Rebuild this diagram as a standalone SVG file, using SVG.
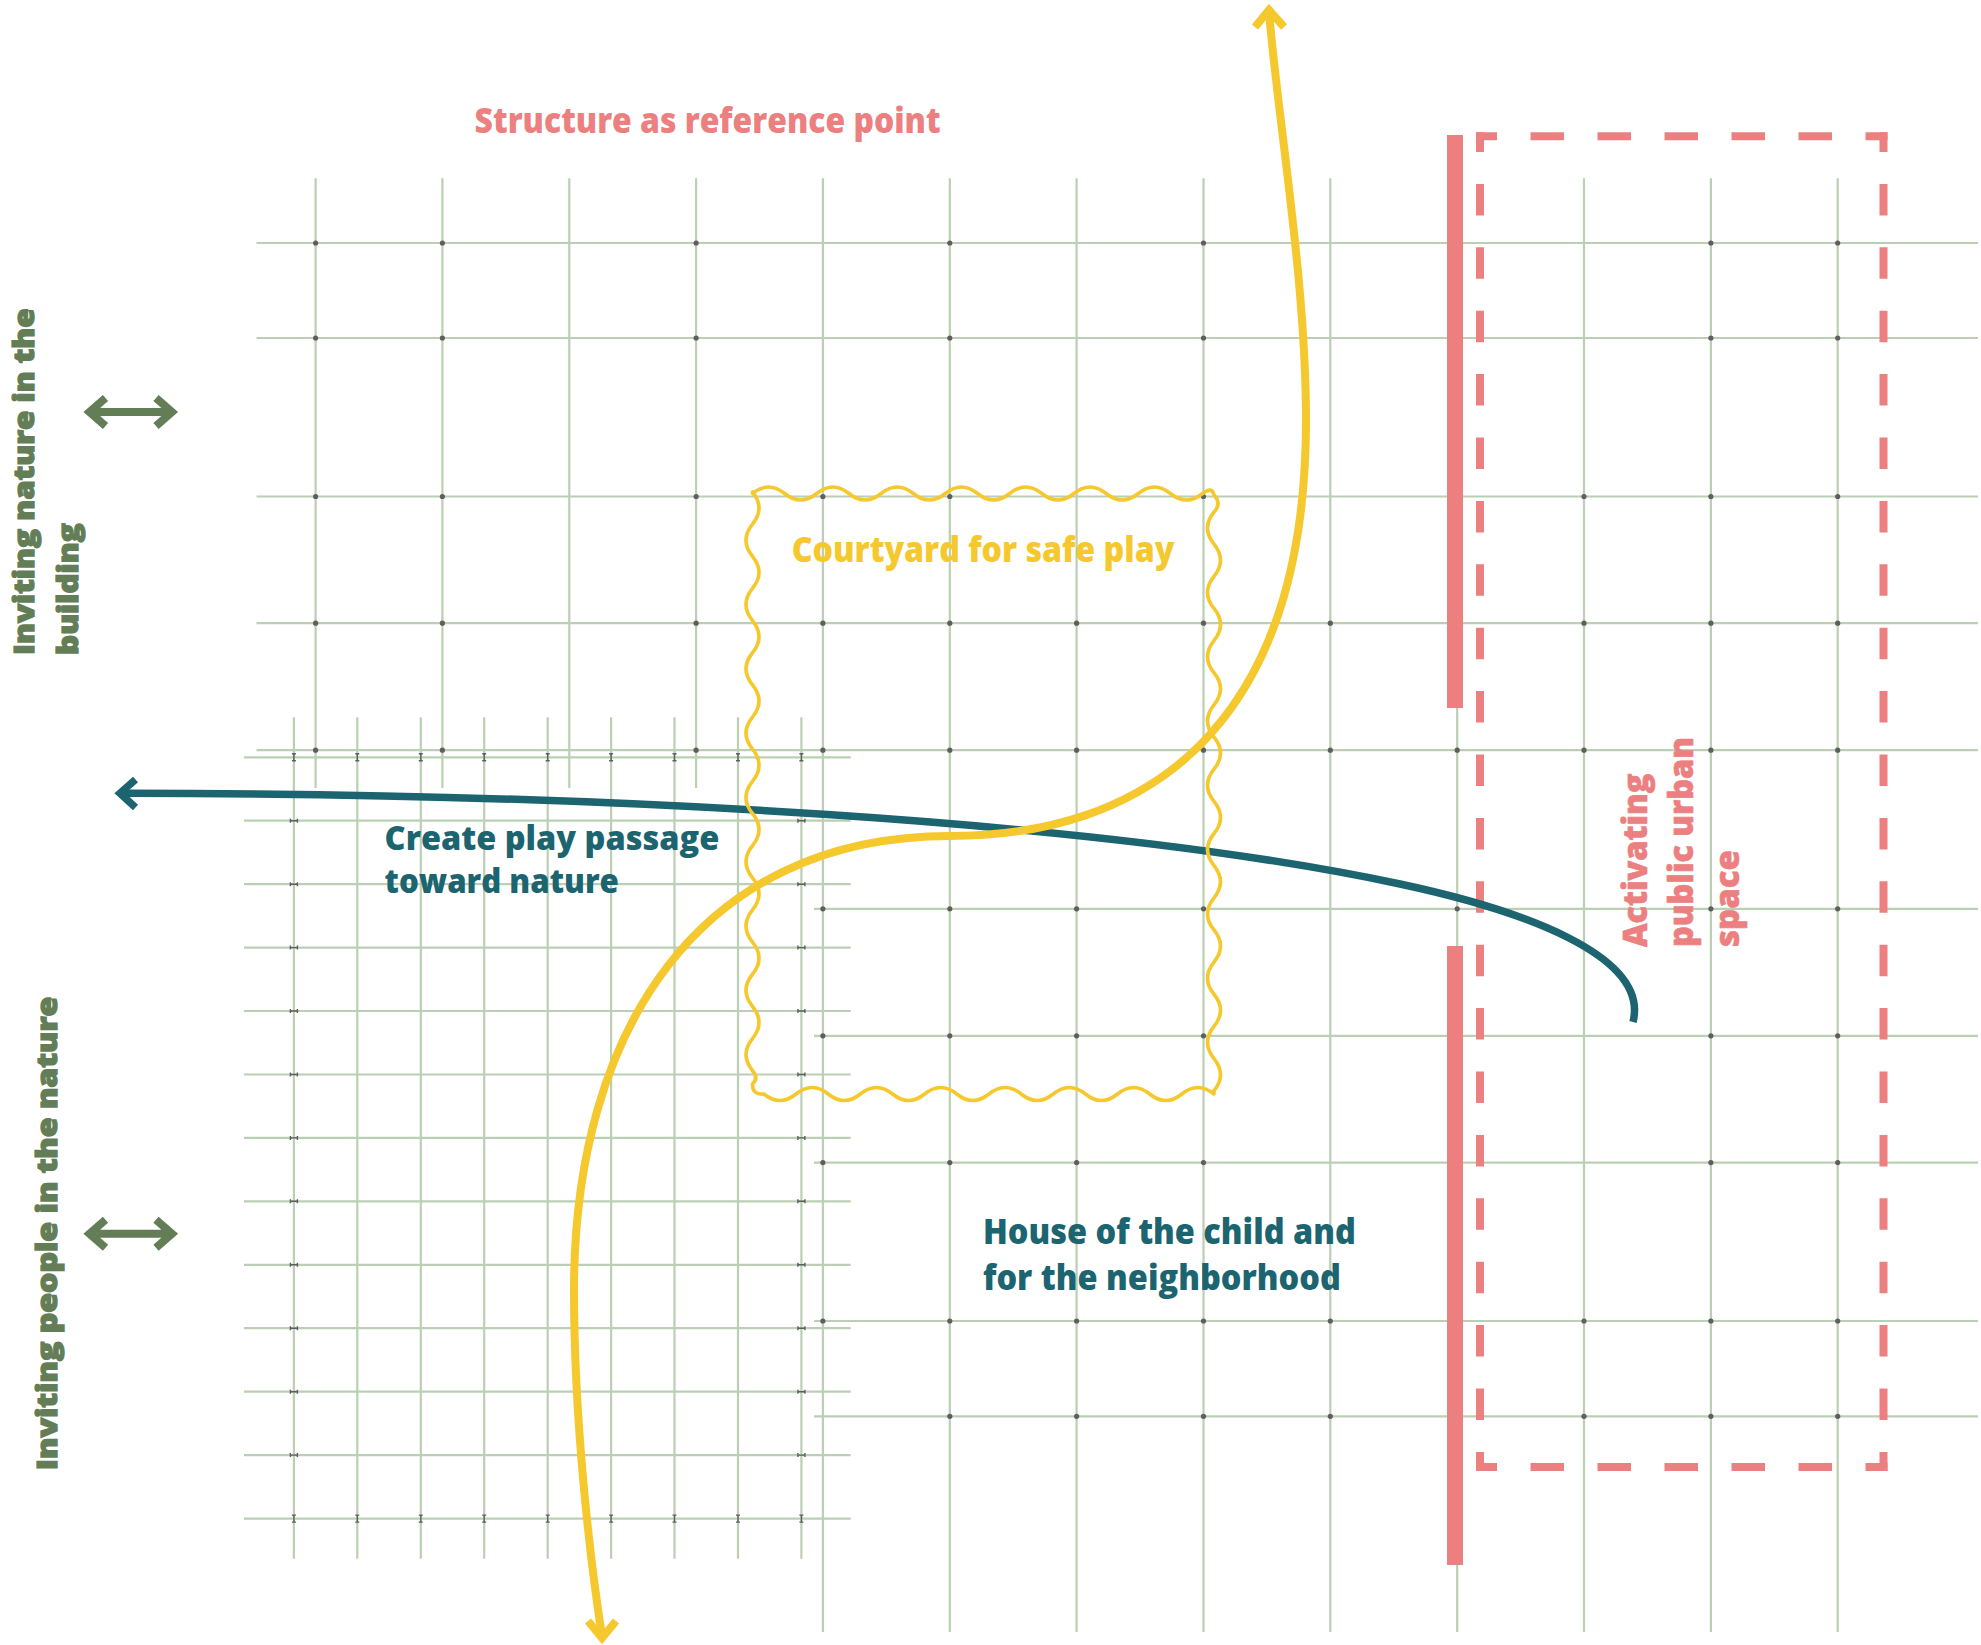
<svg xmlns="http://www.w3.org/2000/svg" xmlns:xlink="http://www.w3.org/1999/xlink" width="1981" height="1645" viewBox="0 0 1981 1645">
<style>
.g{stroke:#BACFB3;stroke-width:2.2;fill:none}
.dot{fill:#5E5E5E}
.mk{stroke:#5E5E5E;stroke-width:1.4;fill:none}
.pk{fill:#EC8080}
.dash{stroke:#EC8080;stroke-width:8;fill:none}
.teal{stroke:#1B6470;stroke-width:7.5;fill:none}
.yel{stroke:#F5C82D;stroke-width:8;fill:none}
.wav{stroke:#F5C82D;stroke-width:3.6;fill:none;stroke-linejoin:round}
.grn{stroke:#637E57;stroke-width:8;fill:none}
.t{font-family:'Open Sans',Lato,'Liberation Sans',sans-serif;font-weight:800}
.tb{font-family:'Open Sans',Lato,'Liberation Sans',sans-serif;font-weight:800}
.gt{fill:#637E57;stroke:#637E57;stroke-width:1.3}
.pt{fill:#EC8080;stroke:#EC8080;stroke-width:0.6}
</style>
<defs>
<g id="mi"><path class="mk" d="M-2,-3.5h4M-2,3.5h4M0,-3.5v7"/></g>
<g id="mh"><path class="mk" d="M-3.5,-2v4M3.5,-2v4M-3.5,0h7"/></g>
</defs>
<rect width="1981" height="1645" fill="#fff"/>
<g id="grid">
<path class="g" d="M315.6,178.3V788M442.4,178.3V788M569.3,178.3V788M696.1,178.3V788M822.9,178.3V1632M949.8,178.3V1632M1076.6,178.3V1632M1203.5,178.3V1632M1330.3,178.3V1632M1457.2,178.3V1632M1584,178.3V1632M1710.9,178.3V1632M1837.7,178.3V1632"/>
<path class="g" d="M256.5,243H1978M256.5,338H1978M256.5,496.5H1978M256.5,623.2H1978M256.5,750.2H1978M814,908.8H1978M814,1035.8H1978M814,1162.6H1978M814,1321H1978M814,1416.3H1978"/>
<path class="g" d="M293.9,717.3V1558.8M357.3,717.3V1558.8M420.8,717.3V1558.8M484.2,717.3V1558.8M547.7,717.3V1558.8M611.1,717.3V1558.8M674.5,717.3V1558.8M738,717.3V1558.8M801.4,717.3V1558.8"/>
<path class="g" d="M244,757.3H850.7M244,820.7H850.7M244,884.2H850.7M244,947.6H850.7M244,1011H850.7M244,1074.5H850.7M244,1137.9H850.7M244,1201.3H850.7M244,1264.8H850.7M244,1328.2H850.7M244,1391.7H850.7M244,1455.1H850.7M244,1518.6H850.7"/>
<g id="dots">
<circle class="dot" cx="315.6" cy="243" r="2.6"/><circle class="dot" cx="442.4" cy="243" r="2.6"/><circle class="dot" cx="696.1" cy="243" r="2.6"/><circle class="dot" cx="949.8" cy="243" r="2.6"/><circle class="dot" cx="1203.5" cy="243" r="2.6"/><circle class="dot" cx="1710.9" cy="243" r="2.6"/><circle class="dot" cx="1837.7" cy="243" r="2.6"/>
<circle class="dot" cx="315.6" cy="338" r="2.6"/><circle class="dot" cx="442.4" cy="338" r="2.6"/><circle class="dot" cx="696.1" cy="338" r="2.6"/><circle class="dot" cx="949.8" cy="338" r="2.6"/><circle class="dot" cx="1203.5" cy="338" r="2.6"/><circle class="dot" cx="1710.9" cy="338" r="2.6"/><circle class="dot" cx="1837.7" cy="338" r="2.6"/>
<circle class="dot" cx="315.6" cy="496.5" r="2.6"/><circle class="dot" cx="442.4" cy="496.5" r="2.6"/><circle class="dot" cx="696.1" cy="496.5" r="2.6"/><circle class="dot" cx="822.9" cy="496.5" r="2.6"/><circle class="dot" cx="949.8" cy="496.5" r="2.6"/><circle class="dot" cx="1203.5" cy="496.5" r="2.6"/><circle class="dot" cx="1584" cy="496.5" r="2.6"/><circle class="dot" cx="1710.9" cy="496.5" r="2.6"/><circle class="dot" cx="1837.7" cy="496.5" r="2.6"/>
<circle class="dot" cx="315.6" cy="623.2" r="2.6"/><circle class="dot" cx="442.4" cy="623.2" r="2.6"/><circle class="dot" cx="696.1" cy="623.2" r="2.6"/><circle class="dot" cx="822.9" cy="623.2" r="2.6"/><circle class="dot" cx="949.8" cy="623.2" r="2.6"/><circle class="dot" cx="1076.6" cy="623.2" r="2.6"/><circle class="dot" cx="1203.5" cy="623.2" r="2.6"/><circle class="dot" cx="1330.3" cy="623.2" r="2.6"/><circle class="dot" cx="1584" cy="623.2" r="2.6"/><circle class="dot" cx="1710.9" cy="623.2" r="2.6"/><circle class="dot" cx="1837.7" cy="623.2" r="2.6"/>
<circle class="dot" cx="315.6" cy="750.2" r="2.6"/><circle class="dot" cx="442.4" cy="750.2" r="2.6"/><circle class="dot" cx="696.1" cy="750.2" r="2.6"/><circle class="dot" cx="822.9" cy="750.2" r="2.6"/><circle class="dot" cx="949.8" cy="750.2" r="2.6"/><circle class="dot" cx="1076.6" cy="750.2" r="2.6"/><circle class="dot" cx="1203.5" cy="750.2" r="2.6"/><circle class="dot" cx="1330.3" cy="750.2" r="2.6"/><circle class="dot" cx="1457.2" cy="750.2" r="2.6"/><circle class="dot" cx="1584" cy="750.2" r="2.6"/><circle class="dot" cx="1710.9" cy="750.2" r="2.6"/><circle class="dot" cx="1837.7" cy="750.2" r="2.6"/>
<circle class="dot" cx="822.9" cy="908.8" r="2.6"/><circle class="dot" cx="949.8" cy="908.8" r="2.6"/><circle class="dot" cx="1076.6" cy="908.8" r="2.6"/><circle class="dot" cx="1203.5" cy="908.8" r="2.6"/><circle class="dot" cx="1457.2" cy="908.8" r="2.6"/><circle class="dot" cx="1710.9" cy="908.8" r="2.6"/><circle class="dot" cx="1837.7" cy="908.8" r="2.6"/>
<circle class="dot" cx="822.9" cy="1035.8" r="2.6"/><circle class="dot" cx="949.8" cy="1035.8" r="2.6"/><circle class="dot" cx="1076.6" cy="1035.8" r="2.6"/><circle class="dot" cx="1203.5" cy="1035.8" r="2.6"/><circle class="dot" cx="1710.9" cy="1035.8" r="2.6"/><circle class="dot" cx="1837.7" cy="1035.8" r="2.6"/>
<circle class="dot" cx="822.9" cy="1162.6" r="2.6"/><circle class="dot" cx="949.8" cy="1162.6" r="2.6"/><circle class="dot" cx="1076.6" cy="1162.6" r="2.6"/><circle class="dot" cx="1203.5" cy="1162.6" r="2.6"/><circle class="dot" cx="1710.9" cy="1162.6" r="2.6"/><circle class="dot" cx="1837.7" cy="1162.6" r="2.6"/>
<circle class="dot" cx="822.9" cy="1321" r="2.6"/><circle class="dot" cx="949.8" cy="1321" r="2.6"/><circle class="dot" cx="1076.6" cy="1321" r="2.6"/><circle class="dot" cx="1203.5" cy="1321" r="2.6"/><circle class="dot" cx="1330.3" cy="1321" r="2.6"/><circle class="dot" cx="1584" cy="1321" r="2.6"/><circle class="dot" cx="1710.9" cy="1321" r="2.6"/><circle class="dot" cx="1837.7" cy="1321" r="2.6"/>
<circle class="dot" cx="949.8" cy="1416.3" r="2.6"/><circle class="dot" cx="1076.6" cy="1416.3" r="2.6"/><circle class="dot" cx="1203.5" cy="1416.3" r="2.6"/><circle class="dot" cx="1330.3" cy="1416.3" r="2.6"/><circle class="dot" cx="1584" cy="1416.3" r="2.6"/><circle class="dot" cx="1710.9" cy="1416.3" r="2.6"/><circle class="dot" cx="1837.7" cy="1416.3" r="2.6"/>
</g>
<g id="marks">
<use href="#mi" x="293.9" y="757.3"/><use href="#mi" x="357.3" y="757.3"/><use href="#mi" x="420.8" y="757.3"/><use href="#mi" x="484.2" y="757.3"/><use href="#mi" x="547.7" y="757.3"/><use href="#mi" x="611.1" y="757.3"/><use href="#mi" x="674.5" y="757.3"/><use href="#mi" x="738" y="757.3"/><use href="#mi" x="801.4" y="757.3"/>
<use href="#mi" x="293.9" y="1518.6"/><use href="#mi" x="357.3" y="1518.6"/><use href="#mi" x="420.8" y="1518.6"/><use href="#mi" x="484.2" y="1518.6"/><use href="#mi" x="547.7" y="1518.6"/><use href="#mi" x="611.1" y="1518.6"/><use href="#mi" x="674.5" y="1518.6"/><use href="#mi" x="738" y="1518.6"/><use href="#mi" x="801.4" y="1518.6"/>
<use href="#mh" x="293.9" y="820.7"/><use href="#mh" x="293.9" y="884.2"/><use href="#mh" x="293.9" y="947.6"/><use href="#mh" x="293.9" y="1011"/><use href="#mh" x="293.9" y="1074.5"/><use href="#mh" x="293.9" y="1137.9"/><use href="#mh" x="293.9" y="1201.3"/><use href="#mh" x="293.9" y="1264.8"/><use href="#mh" x="293.9" y="1328.2"/><use href="#mh" x="293.9" y="1391.7"/><use href="#mh" x="293.9" y="1455.1"/>
<use href="#mh" x="801.4" y="820.7"/><use href="#mh" x="801.4" y="884.2"/><use href="#mh" x="801.4" y="947.6"/><use href="#mh" x="801.4" y="1011"/><use href="#mh" x="801.4" y="1074.5"/><use href="#mh" x="801.4" y="1137.9"/><use href="#mh" x="801.4" y="1201.3"/><use href="#mh" x="801.4" y="1264.8"/><use href="#mh" x="801.4" y="1328.2"/><use href="#mh" x="801.4" y="1391.7"/><use href="#mh" x="801.4" y="1455.1"/>
</g>
</g>
<g id="structure">
<rect class="pk" x="1447" y="135" width="16" height="573"/>
<rect class="pk" x="1447" y="946" width="16" height="619"/>
</g>
<g id="public-space">
<line class="dash" x1="1476" y1="136.3" x2="1887.5" y2="136.3" stroke-dasharray="33.5 33.5" stroke-dashoffset="12.5"/>
<line class="dash" x1="1476" y1="1467" x2="1887.5" y2="1467" stroke-dasharray="33.5 33.5" stroke-dashoffset="12.5"/>
<line class="dash" x1="1480" y1="132.3" x2="1480" y2="1471" stroke-dasharray="31.5 31.9" stroke-dashoffset="11.8"/>
<line class="dash" x1="1883.5" y1="132.3" x2="1883.5" y2="1471" stroke-dasharray="31.5 31.9" stroke-dashoffset="11.8"/>
<text class="tb pt" font-size="33" transform="translate(1647,947) rotate(-90)" textLength="173.5" lengthAdjust="spacingAndGlyphs">Activating</text>
<text class="tb pt" font-size="33" transform="translate(1693,947) rotate(-90)" textLength="210" lengthAdjust="spacingAndGlyphs">public urban</text>
<text class="tb pt" font-size="33" transform="translate(1739,947) rotate(-90)" textLength="97" lengthAdjust="spacingAndGlyphs">space</text>
</g>
<g id="connectors">
<path id="play-passage" class="teal" d="M120,793.3C600,793 1100,820 1400,884C1520,909.6 1650,955 1633,1022"/>
<polyline class="teal" points="135.5,779.5 120,793.3 135.5,807.5" stroke-miterlimit="10"/>
</g>
<g id="courtyard">
<path class="wav" d="M752.5,493.5q16.075,-13 32.15,0t32.15,0t32.15,0t32.15,0t32.15,0t32.15,0t32.15,0t32.15,0t32.15,0t32.15,0t32.15,0t32.15,0t32.15,0t32.15,0Q1212,486 1214,495Q1222,503.5 1214,512q-13,16.075 0,32.15t0,32.15t0,32.15t0,32.15t0,32.15t0,32.15t0,32.15t0,32.15t0,32.15t0,32.15t0,32.15t0,32.15t0,32.15t0,32.15t0,32.15t0,32.15t0,32.15t0,32.15L1214,1094q-16.075,-13 -32.15,0t-32.15,0t-32.15,0t-32.15,0t-32.15,0t-32.15,0t-32.15,0t-32.15,0t-32.15,0t-32.15,0t-32.15,0t-32.15,0t-32.15,0t-32.15,0Q752,1095 752.5,1084Q759,1078 752.5,1070.7q-13,-16.075 0,-32.15t0,-32.15t0,-32.15t0,-32.15t0,-32.15t0,-32.15t0,-32.15t0,-32.15t0,-32.15t0,-32.15t0,-32.15t0,-32.15t0,-32.15t0,-32.15t0,-32.15t0,-32.15t0,-32.15t0,-32.15Z"/>
<text class="t" fill="#F5C82D" font-size="35" x="791.7" y="562" textLength="382.6" lengthAdjust="spacingAndGlyphs">Courtyard for safe play</text>
</g>
<g id="connectors-yellow">
<path id="flow" class="yel" d="M1269,12C1278,120 1306,280 1306,420C1306,732 1142,836 950,836C699,836 574,1031 574,1290C574,1420 590,1560 602,1636"/>
<polyline class="yel" points="1255,27 1269,10 1284,27" stroke-miterlimit="10"/>
<polyline class="yel" points="588,1621 602,1638 616,1621" stroke-miterlimit="10"/>
</g>
<g id="label-structure">
<text class="t" fill="#EC8080" font-size="35" x="474.6" y="133.3" textLength="466" lengthAdjust="spacingAndGlyphs">Structure as reference point</text>
</g>
<g id="label-passage">
<text class="t" fill="#1B6470" font-size="34" x="384.6" y="850" textLength="334.7" lengthAdjust="spacingAndGlyphs">Create play passage</text>
<text class="t" fill="#1B6470" font-size="34" x="384.6" y="893.3" textLength="234.2" lengthAdjust="spacingAndGlyphs">toward nature</text>
</g>
<g id="label-house">
<text class="t" fill="#1B6470" font-size="35" x="983" y="1244.2" textLength="372.8" lengthAdjust="spacingAndGlyphs">House of the child and</text>
<text class="t" fill="#1B6470" font-size="35" x="983" y="1289.8" textLength="357.8" lengthAdjust="spacingAndGlyphs">for the neighborhood</text>
</g>
<g id="label-nature-building">
<text class="tb gt" font-size="28" transform="translate(34.3,655) rotate(-90)" textLength="346.7" lengthAdjust="spacingAndGlyphs">Inviting nature in the</text>
<text class="tb gt" font-size="28" transform="translate(78,655) rotate(-90)" textLength="131.7" lengthAdjust="spacingAndGlyphs">building</text>
<path class="grn" d="M89.5,412H172M105.5,398L89.5,412L105.5,426M156,398L172,412L156,426" stroke-miterlimit="10"/>
</g>
<g id="label-people-nature">
<text class="tb gt" font-size="28" transform="translate(57,1470.2) rotate(-90)" textLength="473.5" lengthAdjust="spacingAndGlyphs">Inviting people in the nature</text>
<path class="grn" d="M89.5,1233.8H172M105.5,1219.8L89.5,1233.8L105.5,1247.8M156,1219.8L172,1233.8L156,1247.8" stroke-miterlimit="10"/>
</g>
</svg>
